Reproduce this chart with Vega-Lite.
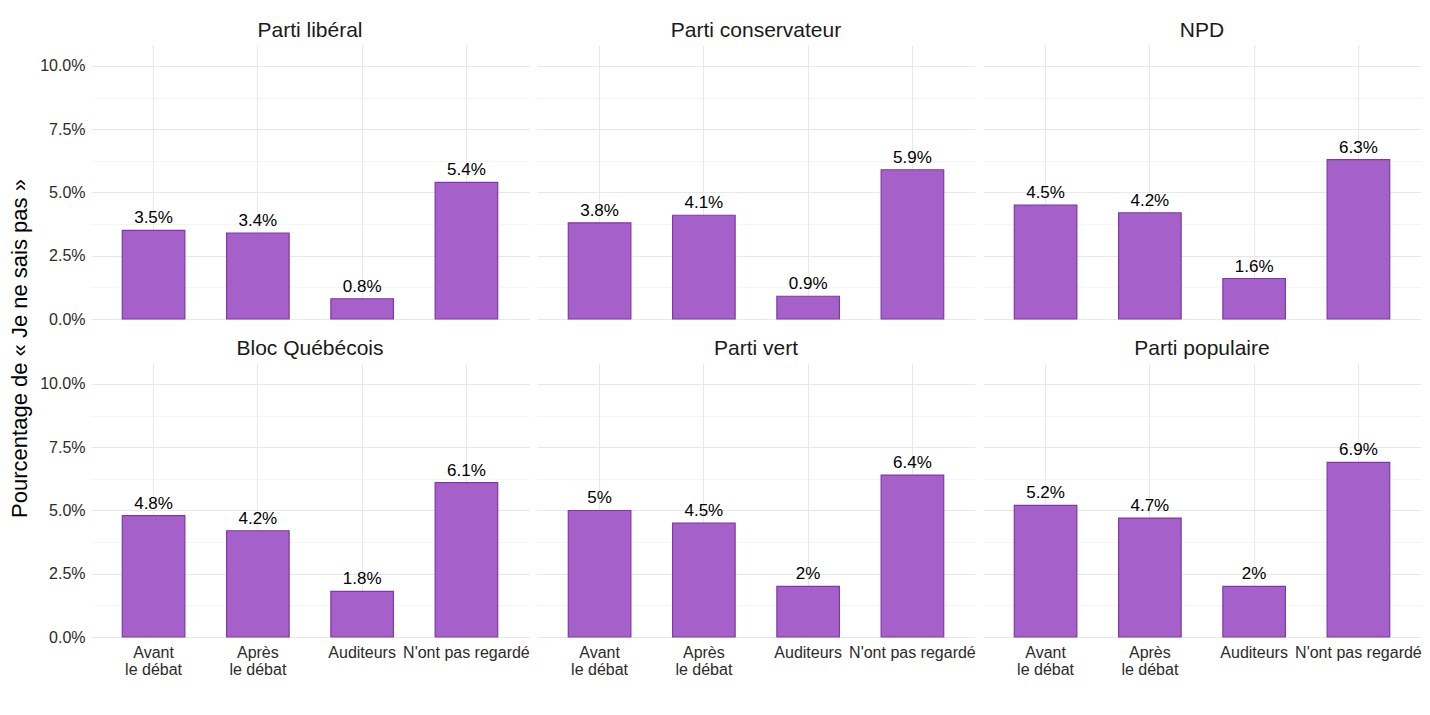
{
  "$schema": "https://vega.github.io/schema/vega-lite/v6.json",
  "background": "white",
  "padding": {"left": 8, "top": 20, "right": 5, "bottom": 5},
  "title": {
    "text": "Pourcentage de « Je ne sais pas »",
    "orient": "left",
    "anchor": "middle",
    "fontSize": 22,
    "fontWeight": "normal",
    "font": "Liberation Sans",
    "color": "#000000",
    "offset": 8
  },
  "data": {
    "values": [
      {"parti": "Parti libéral", "moment": "Avant\nle débat", "pct": 0.035},
      {"parti": "Parti libéral", "moment": "Après\nle débat", "pct": 0.034},
      {"parti": "Parti libéral", "moment": "Auditeurs", "pct": 0.008},
      {"parti": "Parti libéral", "moment": "N'ont pas regardé", "pct": 0.054},
      {"parti": "Parti conservateur", "moment": "Avant\nle débat", "pct": 0.038},
      {"parti": "Parti conservateur", "moment": "Après\nle débat", "pct": 0.041},
      {"parti": "Parti conservateur", "moment": "Auditeurs", "pct": 0.009},
      {"parti": "Parti conservateur", "moment": "N'ont pas regardé", "pct": 0.059},
      {"parti": "NPD", "moment": "Avant\nle débat", "pct": 0.045},
      {"parti": "NPD", "moment": "Après\nle débat", "pct": 0.042},
      {"parti": "NPD", "moment": "Auditeurs", "pct": 0.016},
      {"parti": "NPD", "moment": "N'ont pas regardé", "pct": 0.063},
      {"parti": "Bloc Québécois", "moment": "Avant\nle débat", "pct": 0.048},
      {"parti": "Bloc Québécois", "moment": "Après\nle débat", "pct": 0.042},
      {"parti": "Bloc Québécois", "moment": "Auditeurs", "pct": 0.018},
      {"parti": "Bloc Québécois", "moment": "N'ont pas regardé", "pct": 0.061},
      {"parti": "Parti vert", "moment": "Avant\nle débat", "pct": 0.05},
      {"parti": "Parti vert", "moment": "Après\nle débat", "pct": 0.045},
      {"parti": "Parti vert", "moment": "Auditeurs", "pct": 0.02},
      {"parti": "Parti vert", "moment": "N'ont pas regardé", "pct": 0.064},
      {"parti": "Parti populaire", "moment": "Avant\nle débat", "pct": 0.052},
      {"parti": "Parti populaire", "moment": "Après\nle débat", "pct": 0.047},
      {"parti": "Parti populaire", "moment": "Auditeurs", "pct": 0.02},
      {"parti": "Parti populaire", "moment": "N'ont pas regardé", "pct": 0.069}
    ]
  },
  "facet": {
    "field": "parti",
    "type": "nominal",
    "sort": ["Parti libéral", "Parti conservateur", "NPD", "Bloc Québécois", "Parti vert", "Parti populaire"],
    "title": null,
    "header": {
      "labelFontSize": 21,
      "labelFont": "Liberation Sans",
      "labelColor": "#1a1a1a",
      "labelPadding": 4
    }
  },
  "columns": 3,
  "spacing": {"row": 18, "column": 8},
  "spec": {
    "width": 438,
    "height": 274,
    "encoding": {
      "x": {
        "field": "moment",
        "type": "nominal",
        "sort": ["Avant\nle débat", "Après\nle débat", "Auditeurs", "N'ont pas regardé"],
        "scale": {"paddingInner": 0.4, "paddingOuter": 0.3},
        "axis": {
          "title": null,
          "labelExpr": "split(datum.label, '\\n')",
          "labelAngle": 0,
          "labelOverlap": false,
          "labelLineHeight": 17,
          "labelPadding": 6,
          "grid": true,
          "bandPosition": 0.5
        }
      },
      "y": {
        "field": "pct",
        "type": "quantitative",
        "scale": {"domain": [0, 0.1083], "nice": false},
        "axis": {
          "title": null,
          "values": [0, 0.0125, 0.025, 0.0375, 0.05, 0.0625, 0.075, 0.0875, 0.1],
          "labelExpr": "round(datum.value * 800) % 20 == 0 ? format(datum.value, '.1%') : ''",
          "gridWidth": {"condition": {"test": "round(datum.value * 800) % 20 == 0", "value": 1.1}, "value": 0.6},
          "gridColor": {"condition": {"test": "round(datum.value * 800) % 20 == 0", "value": "#e8e8e8"}, "value": "#eeeeee"}
        }
      }
    },
    "layer": [
      {
        "mark": {"type": "bar", "fill": "#a560ca", "stroke": "#7d3aa6", "strokeWidth": 1.2}
      },
      {
        "mark": {"type": "text", "baseline": "bottom", "dy": -3, "fontSize": 17, "font": "Liberation Sans", "color": "#000000"},
        "encoding": {"text": {"field": "pct", "type": "quantitative", "format": ".1~%"}}
      }
    ]
  },
  "config": {
    "view": {"stroke": null},
    "axis": {
      "domain": false,
      "ticks": false,
      "labelFont": "Liberation Sans",
      "labelFontSize": 16,
      "labelColor": "#2b2b2b",
      "gridColor": "#e8e8e8",
      "labelPadding": 6
    }
  }
}
